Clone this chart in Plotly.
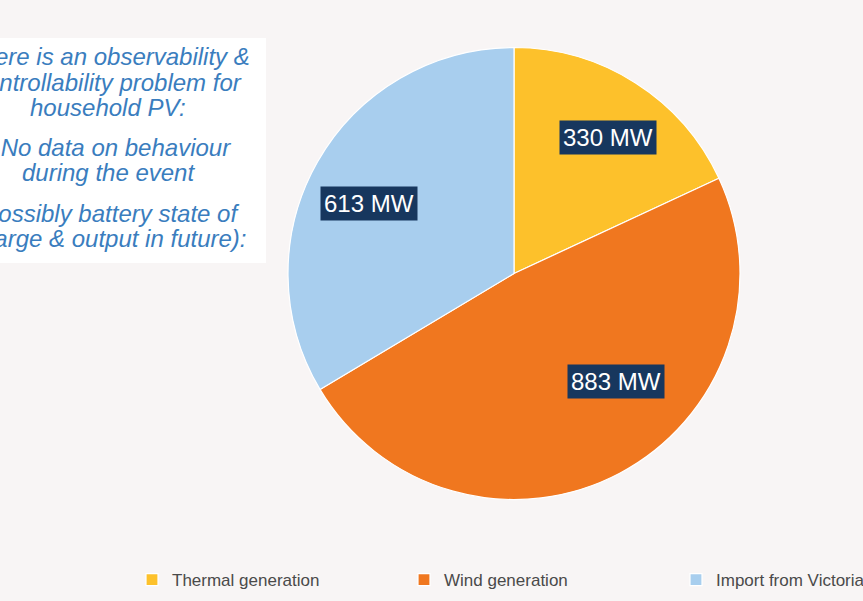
import plotly.graph_objects as go

labels = ["Thermal generation", "Wind generation", "Import from Victoria"]
values = [330, 883, 613]
colors = ["#FDC12B", "#F0771F", "#A8CEEE"]
value_labels = [f"{v} MW" for v in values]

note_lines = [
    "There is an observability &",
    "controllability problem for",
    "household PV:",
    "- No data on behaviour",
    "during the event",
    "(possibly battery state of",
    "charge & output in future):",
]
note_line_y = [57, 82, 107, 148, 172, 213, 238]

W, H = 863, 601
B = 41
PH = H - B  # plot-area height (top margin 0)


def py(v):
    return 1 - v / PH


fig = go.Figure()
fig.add_trace(go.Pie(
    labels=labels, values=values, sort=False, direction="clockwise", rotation=0,
    marker=dict(colors=colors, line=dict(color="#FFFFFF", width=1.2)),
    textinfo="none", hoverinfo="label+value",
    domain=dict(x=[288 / W, 740 / W], y=[py(500), py(47)]),
))

# value labels (dark boxes)
label_pos = [(608, 137), (616, 381), (369, 203)]
for txt, (px, pyy) in zip(value_labels, label_pos):
    fig.add_annotation(x=px / W, y=py(pyy), xref="paper", yref="paper",
                       xanchor="center", yanchor="middle",
                       text=txt, showarrow=False,
                       font=dict(family="Liberation Sans, Arial", size=24, color="#FFFFFF"),
                       bgcolor="#17375E", borderpad=3)

# note box
fig.add_shape(type="rect", xref="paper", yref="paper",
              x0=-0.01, x1=266 / W, y0=py(263), y1=py(38),
              fillcolor="#FFFFFF", line=dict(width=0), layer="below")
for txt, ly in zip(note_lines, note_line_y):
    fig.add_annotation(x=108 / W, y=py(ly), xref="paper", yref="paper",
                       text=f"<i>{txt}</i>", showarrow=False, align="center",
                       xanchor="center", yanchor="middle",
                       font=dict(family="Liberation Sans, Arial", size=24, color="#3A7DBE"))

fig.update_layout(
    width=W, height=H,
    margin=dict(l=0, r=0, t=0, b=B, autoexpand=False),
    paper_bgcolor="#F8F5F5", plot_bgcolor="#F8F5F5",
    showlegend=True,
    legend=dict(orientation="h", x=132 / W, xanchor="left", y=py(580), yanchor="middle",
                entrywidth=227, entrywidthmode="pixels",
                font=dict(family="Liberation Sans, Arial", size=17, color="#4A4A4A"),
                bgcolor="rgba(0,0,0,0)"),
)
fig.write_html("out.html")
